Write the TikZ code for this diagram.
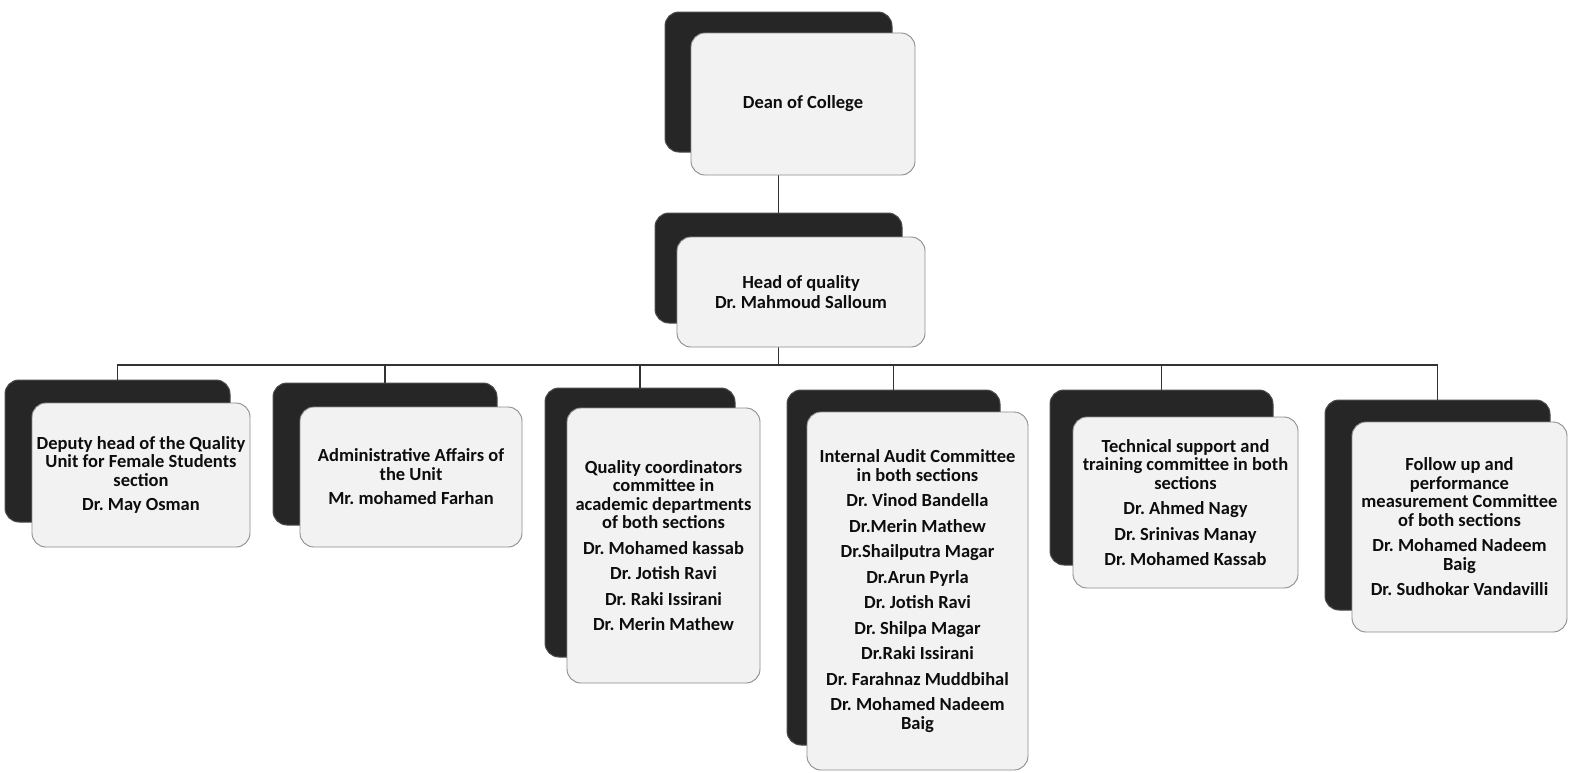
\documentclass[tikz,border=0pt]{standalone}
\usepackage{fontspec}
\setmainfont{Carlito}
\frenchspacing
\begin{document}
\begin{tikzpicture}[x=1pt,y=-1pt,
  backbox/.style={draw=black!70, line width=1pt, fill=black!85, rounded corners=14pt, inner sep=0pt},
  frontbox/.style={draw=black!45, line width=0.9pt, fill=black!5, rounded corners=14pt, inner sep=0pt,
    align=center, text=black!95, font=\bfseries\fontsize{18.5}{18.5}\selectfont\frenchspacing},
  conn/.style={draw=black!80, line width=1.4pt}]
\useasboundingbox (0,0) rectangle (1569,772);
\fill[white] (0,0) rectangle (1569,772);

% back (shadow) boxes
\node[backbox, minimum width=227pt, minimum height=140pt] (db) at (778.5,82) {};
\node[backbox, minimum width=247pt, minimum height=110pt] (hb) at (778.5,268) {};
\node[backbox, minimum width=225pt, minimum height=142pt] (c1b) at (117.5,451) {};
\node[backbox, minimum width=224pt, minimum height=142pt] (c2b) at (385,454) {};
\node[backbox, minimum width=190pt, minimum height=269pt] (c3b) at (640,522.5) {};
\node[backbox, minimum width=213pt, minimum height=355pt] (c4b) at (893.5,567.5) {};
\node[backbox, minimum width=223pt, minimum height=175pt] (c5b) at (1161.5,477.5) {};
\node[backbox, minimum width=225pt, minimum height=210pt] (c6b) at (1437.5,505) {};

% connectors
\coordinate (bus) at (778.5,365);
\draw[conn] (db.south) -- (hb.north);
\draw[conn] (hb.south) -- (bus);
\foreach \c in {c1b,c2b,c3b,c4b,c5b,c6b}{
  \draw[conn] (bus) -| (\c.north);
}

% front boxes
\node[frontbox, minimum width=224pt, minimum height=142pt] (dean) at (803,104) {Dean of College};
\node[frontbox, minimum width=248pt, minimum height=110pt] (head) at (801,292)
  {Head of quality\\[2pt] Dr. Mahmoud Salloum};
\node[frontbox, minimum width=218pt, minimum height=144pt] (c1) at (141,475)
  {Deputy head of the Quality\\ Unit for Female Students\\ section\\[6pt] Dr. May Osman};
\node[frontbox, minimum width=222pt, minimum height=140pt] (c2) at (411,477)
  {Administrative Affairs of\\ the Unit\\[6pt] Mr. mohamed Farhan};
\node[frontbox, minimum width=193pt, minimum height=275pt] (c3) at (663.5,545.5)
  {Quality coordinators\\ committee in\\ academic departments\\ of both sections\\[7pt]
   Dr. Mohamed kassab\\[7pt] Dr. Jotish Ravi\\[7pt] Dr. Raki Issirani\\[7pt] Dr. Merin Mathew};
\node[frontbox, minimum width=221pt, minimum height=358pt] (c4) at (917.5,591)
  {Internal Audit Committee\\ in both sections\\[7pt] Dr. Vinod Bandella\\[7pt] Dr.Merin Mathew\\[7pt]
   Dr.Shailputra Magar\\[7pt] Dr.Arun Pyrla\\[7pt] Dr. Jotish Ravi\\[7pt] Dr. Shilpa Magar\\[7pt]
   Dr.Raki Issirani\\[7pt] Dr. Farahnaz Muddbihal\\[7pt] Dr. Mohamed Nadeem\\ Baig};
\node[frontbox, minimum width=225pt, minimum height=171pt] (c5) at (1185.5,502.5)
  {Technical support and\\ training committee in both\\ sections\\[7pt] Dr. Ahmed Nagy\\[7pt]
   Dr. Srinivas Manay\\[7pt] Dr. Mohamed Kassab};
\node[frontbox, minimum width=215pt, minimum height=210pt] (c6) at (1459.5,527)
  {Follow up and\\ performance\\ measurement Committee\\ of both sections\\[7pt]
   Dr. Mohamed Nadeem\\ Baig\\[7pt] Dr. Sudhokar Vandavilli};
\end{tikzpicture}
\end{document}
